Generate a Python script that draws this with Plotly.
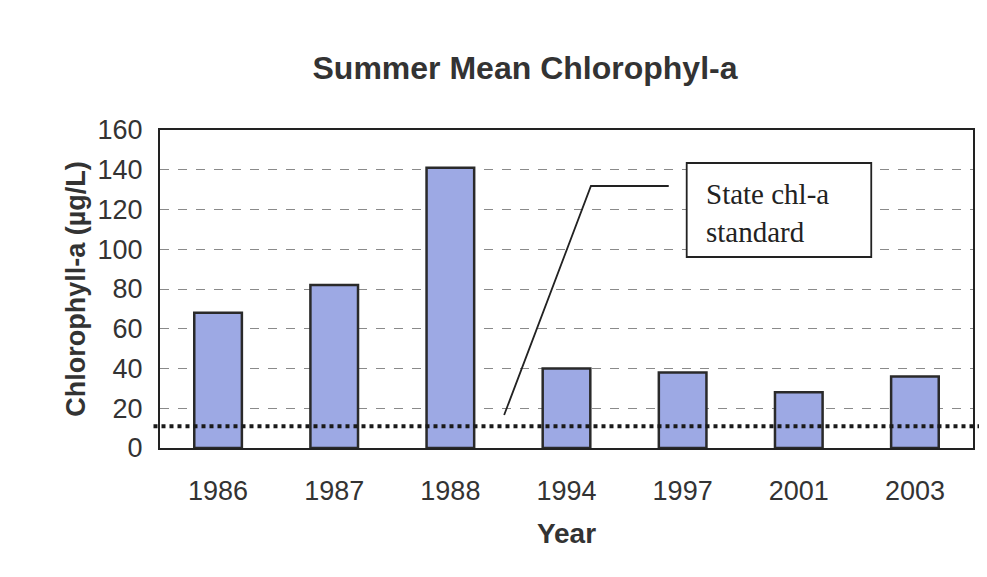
import plotly.graph_objects as go

years = ["1986", "1987", "1988", "1994", "1997", "2001", "2003"]
chla = [68, 82, 141, 40, 38, 28, 36]
standard = 11
y_ticks = [0, 20, 40, 60, 80, 100, 120, 140, 160]

OFF = 8  # browser body margin
SW, SH = 987, 577
W, H = SW - OFF, SH - OFF
# plot area in screen pixels
L, R, T, B = 160, 975, 130, 448


def px(x):
    return (x - L) / (R - L)


def py(y):
    return (B - y) / (B - T)


fig = go.Figure()
fig.add_trace(go.Bar(
    x=years, y=chla,
    marker=dict(color="#9DA9E4", line=dict(color="#2a2a2a", width=2.5)),
    width=0.41,
))

fig.add_shape(type="line", xref="paper", yref="y",
              x0=-0.008, x1=1.013, y0=standard, y1=standard,
              line=dict(color="#1a1a1a", width=4, dash="dot"))

fig.add_shape(type="path", xref="paper", yref="paper",
              path=f"M {px(505)},{py(415)} L {px(592)},{py(186)} L {px(670)},{py(186)}",
              line=dict(color="#222", width=1.8))

fig.add_shape(type="rect", xref="paper", yref="paper",
              x0=px(688), x1=px(873), y0=py(257), y1=py(163),
              line=dict(color="#222", width=1.8), fillcolor="white")

fig.add_annotation(xref="paper", yref="paper", x=px(705), y=py(213),
                   xanchor="left", yanchor="middle", align="left",
                   text="State chl-a<br>standard", showarrow=False,
                   font=dict(family="Liberation Serif, Times New Roman, serif", size=29, color="#222"))

fig.update_layout(
    width=W, height=H,
    margin=dict(l=L - OFF, r=SW - R, t=T - OFF, b=SH - B),
    paper_bgcolor="white", plot_bgcolor="white",
    showlegend=False,
    title=dict(text="<b>Summer Mean Chlorophyl-a</b>", x=(525 - OFF) / W, xanchor="center",
               y=1 - (68 - OFF) / H, yanchor="middle",
               font=dict(family="Liberation Sans, Arial, sans-serif", size=32, color="#333")),
    font=dict(family="Liberation Sans, Arial, sans-serif", color="#333"),
    xaxis=dict(
        title=dict(text="<b>Year</b>", font=dict(size=28, color="#333"), standoff=18),
        tickfont=dict(size=27, color="#333"),
        showline=True, linecolor="#222", linewidth=2, mirror=True,
        ticks="outside", ticklen=18, tickcolor="rgba(0,0,0,0)", showgrid=False,
    ),
    yaxis=dict(
        title=dict(text="<b>Chlorophyll-a (µg/L)</b>", font=dict(size=27, color="#333"), standoff=4),
        range=[0, 160], tickvals=y_ticks,
        tickfont=dict(size=27, color="#333"),
        showline=True, linecolor="#222", linewidth=2, mirror=True,
        showgrid=True, gridcolor="#8a8a8a", griddash="dash", gridwidth=1,
        ticks="outside", ticklen=10, tickcolor="rgba(0,0,0,0)", zeroline=False,
    ),
    bargap=0.59,
)

fig.write_html("out.html")
